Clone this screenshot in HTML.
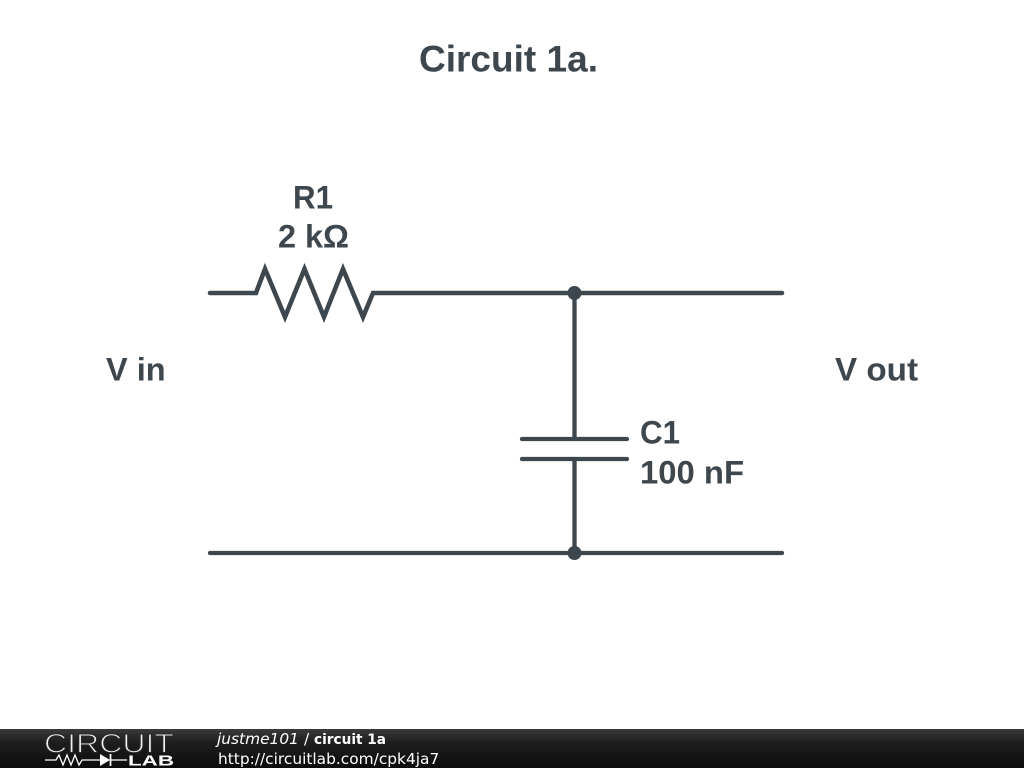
<!DOCTYPE html>
<html>
<head>
<meta charset="utf-8">
<style>
html,body{margin:0;padding:0;background:#fff;width:1024px;height:768px;overflow:hidden}
svg{display:block}
.b{font-family:"Liberation Sans",sans-serif;font-weight:bold;fill:#3d474d}
.f{font-family:"DejaVu Sans",sans-serif;fill:#fff;font-size:15.4px}
</style>
</head>
<body>
<svg width="1024" height="768" viewBox="0 0 1024 768" xmlns="http://www.w3.org/2000/svg">
<defs>
<linearGradient id="g" x1="0" y1="0" x2="0" y2="1">
<stop offset="0" stop-color="#3a3a3a"/>
<stop offset="0.35" stop-color="#1e1e1e"/>
<stop offset="1" stop-color="#0c0c0c"/>
</linearGradient>
</defs>
<rect width="1024" height="768" fill="#fff"/>
<text class="b" x="419" y="71.500" font-size="37" textLength="179" lengthAdjust="spacingAndGlyphs">Circuit 1a.</text>
<text class="b" x="293" y="208.500" font-size="32.500" textLength="40" lengthAdjust="spacingAndGlyphs">R1</text>
<text class="b" x="278" y="247.500" font-size="32.500" textLength="71" lengthAdjust="spacingAndGlyphs">2 kΩ</text>
<text class="b" x="106" y="380.500" font-size="32.500">V in</text>
<text class="b" x="835" y="380.500" font-size="32.500" textLength="83" lengthAdjust="spacingAndGlyphs">V out</text>
<text class="b" x="640" y="443.500" font-size="32.500" textLength="40" lengthAdjust="spacingAndGlyphs">C1</text>
<text class="b" x="640" y="483.500" font-size="32.500" textLength="104" lengthAdjust="spacingAndGlyphs">100 nF</text>
<g fill="none" stroke="#3d474d" stroke-width="4.300" stroke-linecap="round" stroke-linejoin="miter">
<path d="M210 293H256L265 269L285 317L304.500 269L324 317L343 269L363 317L373 293H782" stroke-width="4.600"/>
<path d="M210 553H782"/>
<path d="M574.500 293V439"/>
<path d="M574.500 459V553"/>
<path d="M522 439H627"/>
<path d="M522 459H627"/>
</g>
<circle cx="574.500" cy="293" r="7" fill="#3d474d"/>
<circle cx="574.500" cy="553" r="7" fill="#3d474d"/>
<rect x="0" y="729" width="1024" height="39" fill="url(#g)"/>
<text x="44" y="752.500" font-family="'Liberation Sans',sans-serif" font-size="27" fill="#f0f0f0" stroke="#262626" stroke-width="1.100" textLength="130" lengthAdjust="spacingAndGlyphs">CIRCUIT</text>
<g fill="none" stroke="#fff" stroke-width="1.300">
<path d="M45 760H56L59 755L63 765L67 755L71 765L75 755L79 765L82 760H100"/>
<path d="M110 760H127"/>
<path d="M110.500 754V766" stroke-width="1.800"/>
</g>
<path d="M100 754L110 760L100 766Z" fill="#fff"/>
<text x="128" y="765.500" font-family="'Liberation Sans',sans-serif" font-weight="bold" font-size="15" fill="#fff" textLength="46" lengthAdjust="spacingAndGlyphs">LAB</text>
<text class="f" x="217" y="744" font-style="italic">justme101</text>
<text class="f" x="304" y="744">/</text>
<text class="f" x="314" y="744" font-weight="bold" style="font-size:14.500px" textLength="72" lengthAdjust="spacingAndGlyphs">circuit 1a</text>
<text class="f" x="218" y="764">http://circuitlab.com/cpk4ja7</text>
</svg>
</body>
</html>
